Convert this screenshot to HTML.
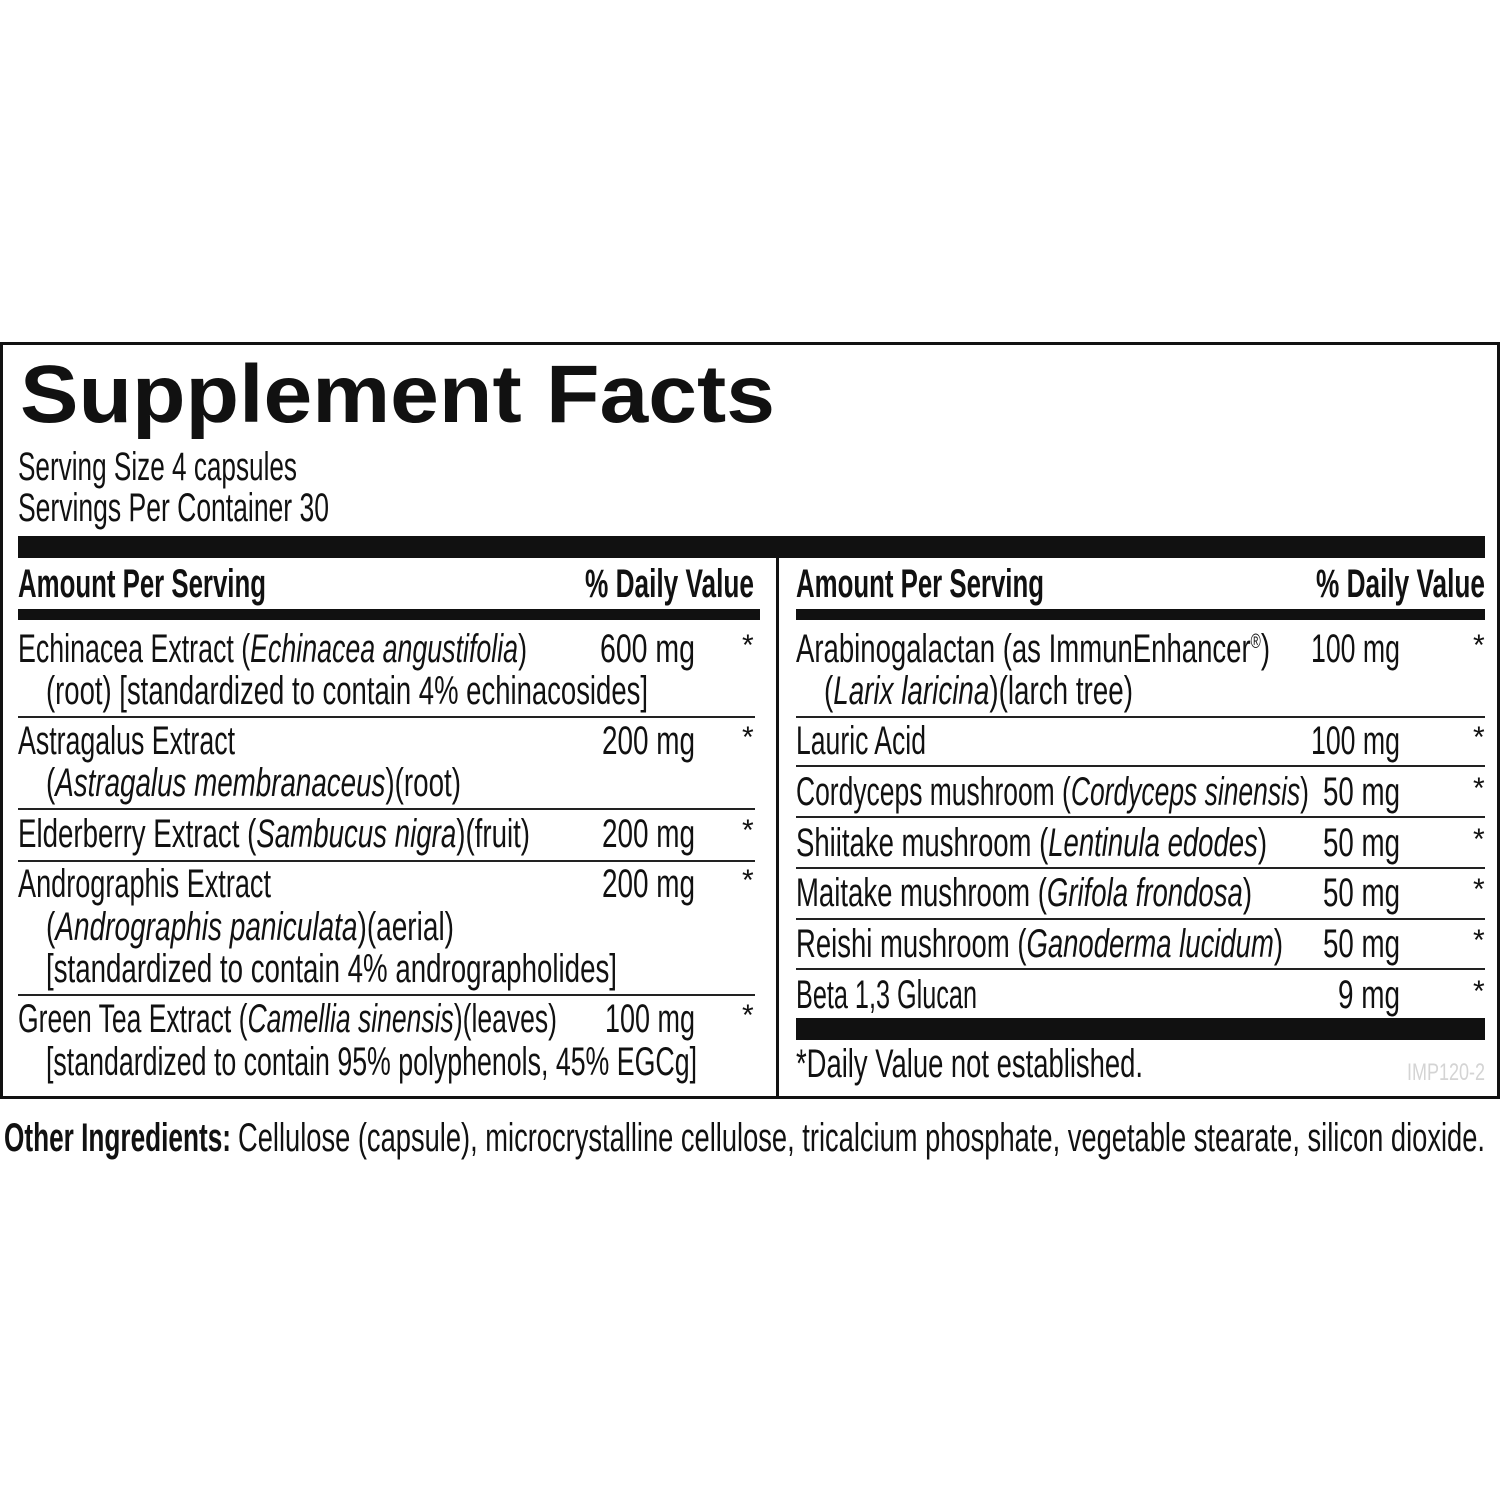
<!DOCTYPE html>
<html><head><meta charset="utf-8"><style>
html,body{margin:0;padding:0;background:#fff;width:1500px;height:1500px;overflow:hidden}
svg text{font-family:"Liberation Sans",sans-serif;fill:#111}
.t{font-size:40px}
.b{font-weight:bold}
</style></head><body>
<svg width="1500" height="1500" viewBox="0 0 1500 1500" xmlns="http://www.w3.org/2000/svg">
<rect x="1.5" y="343.5" width="1497" height="754" fill="none" stroke="#111" stroke-width="3"/>
<text x="20" y="422" font-size="82" class="b" textLength="755" lengthAdjust="spacingAndGlyphs">Supplement Facts</text>
<text class="t" x="18" y="480" textLength="279" lengthAdjust="spacingAndGlyphs">Serving Size 4 capsules</text>
<text class="t" x="18" y="521" textLength="311" lengthAdjust="spacingAndGlyphs">Servings Per Container 30</text>
<rect x="18" y="536" width="1467" height="22" fill="#111"/>
<rect x="776" y="558" width="3" height="540" fill="#111"/>
<text class="t b" x="18" y="597" font-size="38" textLength="248" lengthAdjust="spacingAndGlyphs">Amount Per Serving</text>
<text class="t b" x="585" y="597" font-size="38" textLength="169" lengthAdjust="spacingAndGlyphs">% Daily Value</text>
<text class="t b" x="796" y="597" font-size="38" textLength="248" lengthAdjust="spacingAndGlyphs">Amount Per Serving</text>
<text class="t b" x="1316" y="597" font-size="38" textLength="169" lengthAdjust="spacingAndGlyphs">% Daily Value</text>
<rect x="18" y="609" width="742" height="11" fill="#111"/>
<rect x="796" y="609" width="689" height="11" fill="#111"/>
<g fill="#222">
<rect x="18" y="716" width="737" height="2"/>
<rect x="18" y="808" width="737" height="2"/>
<rect x="18" y="860" width="737" height="2"/>
<rect x="18" y="994" width="737" height="2"/>
<rect x="796" y="716" width="689" height="2"/>
<rect x="796" y="765" width="689" height="2"/>
<rect x="796" y="816" width="689" height="2"/>
<rect x="796" y="867" width="689" height="2"/>
<rect x="796" y="918" width="689" height="2"/>
<rect x="796" y="968" width="689" height="2"/>
</g>
<rect x="796" y="1018" width="689" height="22" fill="#111"/>
<!-- left column -->
<text class="t" x="18" y="662" textLength="509" lengthAdjust="spacingAndGlyphs">Echinacea Extract (<tspan font-style="italic">Echinacea angustifolia</tspan>)</text>
<text class="t" x="46" y="704" textLength="602" lengthAdjust="spacingAndGlyphs">(root) [standardized to contain 4% echinacosides]</text>
<text class="t" x="18" y="754" textLength="217" lengthAdjust="spacingAndGlyphs">Astragalus Extract</text>
<text class="t" x="46" y="796" textLength="415" lengthAdjust="spacingAndGlyphs">(<tspan font-style="italic">Astragalus membranaceus</tspan>)(root)</text>
<text class="t" x="18" y="847" textLength="512" lengthAdjust="spacingAndGlyphs">Elderberry Extract (<tspan font-style="italic">Sambucus nigra</tspan>)(fruit)</text>
<text class="t" x="18" y="897" textLength="253" lengthAdjust="spacingAndGlyphs">Andrographis Extract</text>
<text class="t" x="46" y="940" textLength="408" lengthAdjust="spacingAndGlyphs">(<tspan font-style="italic">Andrographis paniculata</tspan>)(aerial)</text>
<text class="t" x="46" y="982" textLength="571" lengthAdjust="spacingAndGlyphs">[standardized to contain 4% andrographolides]</text>
<text class="t" x="18" y="1032" textLength="539" lengthAdjust="spacingAndGlyphs">Green Tea Extract (<tspan font-style="italic">Camellia sinensis</tspan>)(leaves)</text>
<text class="t" x="46" y="1075" textLength="651" lengthAdjust="spacingAndGlyphs">[standardized to contain 95% polyphenols, 45% EGCg]</text>
<text class="t" x="600" y="662" textLength="95" lengthAdjust="spacingAndGlyphs">600 mg</text>
<text class="t" x="602" y="754" textLength="93" lengthAdjust="spacingAndGlyphs">200 mg</text>
<text class="t" x="602" y="847" textLength="93" lengthAdjust="spacingAndGlyphs">200 mg</text>
<text class="t" x="602" y="897" textLength="93" lengthAdjust="spacingAndGlyphs">200 mg</text>
<text class="t" x="605" y="1032" textLength="90" lengthAdjust="spacingAndGlyphs">100 mg</text>
<g font-size="30">
<text x="742" y="655">*</text><text x="742" y="747">*</text><text x="742" y="840">*</text><text x="742" y="890">*</text><text x="742" y="1025">*</text>
<text x="1473" y="655">*</text><text x="1473" y="747">*</text><text x="1473" y="798">*</text><text x="1473" y="849">*</text><text x="1473" y="899">*</text><text x="1473" y="950">*</text><text x="1473" y="1001">*</text>
</g>
<!-- right column -->
<text class="t" x="796" y="662" textLength="474" lengthAdjust="spacingAndGlyphs">Arabinogalactan (as ImmunEnhancer<tspan font-size="20" dy="-14">®</tspan><tspan dy="14">)</tspan></text>
<text class="t" x="824" y="704" textLength="309" lengthAdjust="spacingAndGlyphs">(<tspan font-style="italic">Larix laricina</tspan>)(larch tree)</text>
<text class="t" x="796" y="754" textLength="130" lengthAdjust="spacingAndGlyphs">Lauric Acid</text>
<text class="t" x="796" y="805" textLength="513" lengthAdjust="spacingAndGlyphs">Cordyceps mushroom (<tspan font-style="italic">Cordyceps sinensis</tspan>)</text>
<text class="t" x="796" y="856" textLength="471" lengthAdjust="spacingAndGlyphs">Shiitake mushroom (<tspan font-style="italic">Lentinula edodes</tspan>)</text>
<text class="t" x="796" y="906" textLength="456" lengthAdjust="spacingAndGlyphs">Maitake mushroom (<tspan font-style="italic">Grifola frondosa</tspan>)</text>
<text class="t" x="796" y="957" textLength="487" lengthAdjust="spacingAndGlyphs">Reishi mushroom (<tspan font-style="italic">Ganoderma lucidum</tspan>)</text>
<text class="t" x="796" y="1008" textLength="181" lengthAdjust="spacingAndGlyphs">Beta 1,3 Glucan</text>
<text class="t" x="1311" y="662" textLength="89" lengthAdjust="spacingAndGlyphs">100 mg</text>
<text class="t" x="1311" y="754" textLength="89" lengthAdjust="spacingAndGlyphs">100 mg</text>
<text class="t" x="1323" y="805" textLength="77" lengthAdjust="spacingAndGlyphs">50 mg</text>
<text class="t" x="1323" y="856" textLength="77" lengthAdjust="spacingAndGlyphs">50 mg</text>
<text class="t" x="1323" y="906" textLength="77" lengthAdjust="spacingAndGlyphs">50 mg</text>
<text class="t" x="1323" y="957" textLength="77" lengthAdjust="spacingAndGlyphs">50 mg</text>
<text class="t" x="1338" y="1008" textLength="62" lengthAdjust="spacingAndGlyphs">9 mg</text>
<text class="t" x="796" y="1077" textLength="347" lengthAdjust="spacingAndGlyphs">*Daily Value not established.</text>
<text x="1407" y="1080" font-size="24" style="fill:#d4d4d4" textLength="78" lengthAdjust="spacingAndGlyphs">IMP120-2</text>
<text class="t" x="4" y="1151" font-size="38"><tspan font-weight="bold" textLength="227" lengthAdjust="spacingAndGlyphs">Other Ingredients:</tspan></text>
<text class="t" x="238" y="1151" textLength="1247" lengthAdjust="spacingAndGlyphs">Cellulose (capsule), microcrystalline cellulose, tricalcium phosphate, vegetable stearate, silicon dioxide.</text>
</svg>
</body></html>
